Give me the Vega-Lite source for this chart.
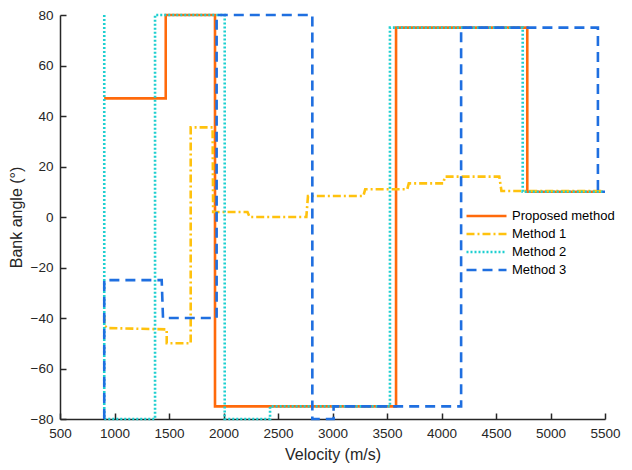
{
  "$schema": "https://vega.github.io/schema/vega-lite/v6.json",
  "width": 545,
  "height": 404,
  "autosize": "none",
  "padding": {"left": 60, "top": 15, "right": 27, "bottom": 51},
  "background": "white",
  "config": {
    "view": {"stroke": null},
    "font": "Liberation Sans",
    "axis": {
      "grid": false,
      "domainColor": "#262626",
      "domainWidth": 1.5,
      "tickColor": "#262626",
      "tickWidth": 1.5,
      "tickSize": -6,
      "labelColor": "#262626",
      "labelFontSize": 13.5,
      "labelFlush": false,
      "labelOverlap": false,
      "titleColor": "#262626",
      "titleFontSize": 16,
      "titleFontWeight": "normal",
      "labelFont": "Liberation Sans",
      "titleFont": "Liberation Sans"
    }
  },
  "data": {
    "values": [
      {"s": "Proposed method", "i": 0, "v": 905, "a": 47},
      {"s": "Proposed method", "i": 1, "v": 1470, "a": 47},
      {"s": "Proposed method", "i": 2, "v": 1470, "a": 80},
      {"s": "Proposed method", "i": 3, "v": 1922, "a": 80},
      {"s": "Proposed method", "i": 4, "v": 1922, "a": -75},
      {"s": "Proposed method", "i": 5, "v": 3583, "a": -75},
      {"s": "Proposed method", "i": 6, "v": 3583, "a": 75},
      {"s": "Proposed method", "i": 7, "v": 4787, "a": 75},
      {"s": "Proposed method", "i": 8, "v": 4787, "a": 10},
      {"s": "Proposed method", "i": 9, "v": 5480, "a": 10},

      {"s": "Method 1", "i": 0, "v": 906, "a": -39},
      {"s": "Method 1", "i": 1, "v": 906, "a": -43},
      {"s": "Method 1", "i": 2, "v": 940, "a": -44},
      {"s": "Method 1", "i": 3, "v": 1479, "a": -44.5},
      {"s": "Method 1", "i": 4, "v": 1479, "a": -50},
      {"s": "Method 1", "i": 5, "v": 1699, "a": -50},
      {"s": "Method 1", "i": 6, "v": 1699, "a": 35.5},
      {"s": "Method 1", "i": 7, "v": 1900, "a": 35.5},
      {"s": "Method 1", "i": 8, "v": 1905, "a": 2},
      {"s": "Method 1", "i": 9, "v": 2220, "a": 2},
      {"s": "Method 1", "i": 10, "v": 2240, "a": 0},
      {"s": "Method 1", "i": 11, "v": 2760, "a": 0},
      {"s": "Method 1", "i": 12, "v": 2775, "a": 8.3},
      {"s": "Method 1", "i": 13, "v": 3283, "a": 8.3},
      {"s": "Method 1", "i": 14, "v": 3300, "a": 11},
      {"s": "Method 1", "i": 15, "v": 3686, "a": 11},
      {"s": "Method 1", "i": 16, "v": 3700, "a": 13.3},
      {"s": "Method 1", "i": 17, "v": 4017, "a": 13.3},
      {"s": "Method 1", "i": 18, "v": 4030, "a": 16},
      {"s": "Method 1", "i": 19, "v": 4530, "a": 16},
      {"s": "Method 1", "i": 20, "v": 4550, "a": 10.3},
      {"s": "Method 1", "i": 21, "v": 5480, "a": 10.3},

      {"s": "Method 2", "i": 0, "v": 906, "a": 80},
      {"s": "Method 2", "i": 1, "v": 906, "a": -80},
      {"s": "Method 2", "i": 2, "v": 1372, "a": -80},
      {"s": "Method 2", "i": 3, "v": 1372, "a": 80},
      {"s": "Method 2", "i": 4, "v": 2011, "a": 80},
      {"s": "Method 2", "i": 5, "v": 2011, "a": -80},
      {"s": "Method 2", "i": 6, "v": 2427, "a": -80},
      {"s": "Method 2", "i": 7, "v": 2427, "a": -75},
      {"s": "Method 2", "i": 8, "v": 3527, "a": -75},
      {"s": "Method 2", "i": 9, "v": 3527, "a": 75},
      {"s": "Method 2", "i": 10, "v": 4745, "a": 75},
      {"s": "Method 2", "i": 11, "v": 4745, "a": 10},
      {"s": "Method 2", "i": 12, "v": 5480, "a": 10},

      {"s": "Method 3", "i": 0, "v": 906, "a": -80},
      {"s": "Method 3", "i": 1, "v": 906, "a": -25},
      {"s": "Method 3", "i": 2, "v": 1433, "a": -25},
      {"s": "Method 3", "i": 3, "v": 1445, "a": -40},
      {"s": "Method 3", "i": 4, "v": 1937, "a": -40},
      {"s": "Method 3", "i": 5, "v": 1937, "a": 80},
      {"s": "Method 3", "i": 6, "v": 2815, "a": 80},
      {"s": "Method 3", "i": 7, "v": 2815, "a": -80},
      {"s": "Method 3", "i": 8, "v": 3010, "a": -80},
      {"s": "Method 3", "i": 9, "v": 3010, "a": -75},
      {"s": "Method 3", "i": 10, "v": 4180, "a": -75},
      {"s": "Method 3", "i": 11, "v": 4180, "a": 75},
      {"s": "Method 3", "i": 12, "v": 5435, "a": 75},
      {"s": "Method 3", "i": 13, "v": 5435, "a": 10},
      {"s": "Method 3", "i": 14, "v": 5500, "a": 10}
    ]
  },
  "mark": {"type": "line", "strokeWidth": 2.6, "clip": false},
  "encoding": {
    "x": {
      "field": "v",
      "type": "quantitative",
      "title": "Velocity (m/s)",
      "scale": {"domain": [500, 5500], "nice": false, "zero": false},
      "axis": {"values": [500, 1000, 1500, 2000, 2500, 3000, 3500, 4000, 4500, 5000, 5500], "labelPadding": 13, "titlePadding": 7, "format": "d"}
    },
    "y": {
      "field": "a",
      "type": "quantitative",
      "title": "Bank angle (°)",
      "scale": {"domain": [-80, 80], "nice": false},
      "axis": {"values": [-80, -60, -40, -20, 0, 20, 40, 60, 80], "labelPadding": 13, "titlePadding": 6}
    },
    "order": {"field": "i", "type": "quantitative"},
    "color": {
      "field": "s",
      "type": "nominal",
      "title": null,
      "scale": {
        "domain": ["Proposed method", "Method 1", "Method 2", "Method 3"],
        "range": ["#FF6A0B", "#FFC20E", "#1ECFD0", "#1F6FE0"]
      },
      "legend": {
        "orient": "none",
        "legendX": 405,
        "legendY": 194,
        "symbolType": "stroke",
        "symbolSize": 1600,
        "symbolStrokeWidth": 2.6,
        "labelFontSize": 13,
        "labelColor": "#000000",
        "labelOffset": 4,
        "rowPadding": 4,
        "clipHeight": 14,
        "fillColor": "white"
      }
    },
    "strokeDash": {
      "field": "s",
      "type": "nominal",
      "title": null,
      "scale": {
        "domain": ["Proposed method", "Method 1", "Method 2", "Method 3"],
        "range": [[1, 0], [8, 3, 2, 3], [2, 2], [10, 6]]
      }
    }
  }
}
